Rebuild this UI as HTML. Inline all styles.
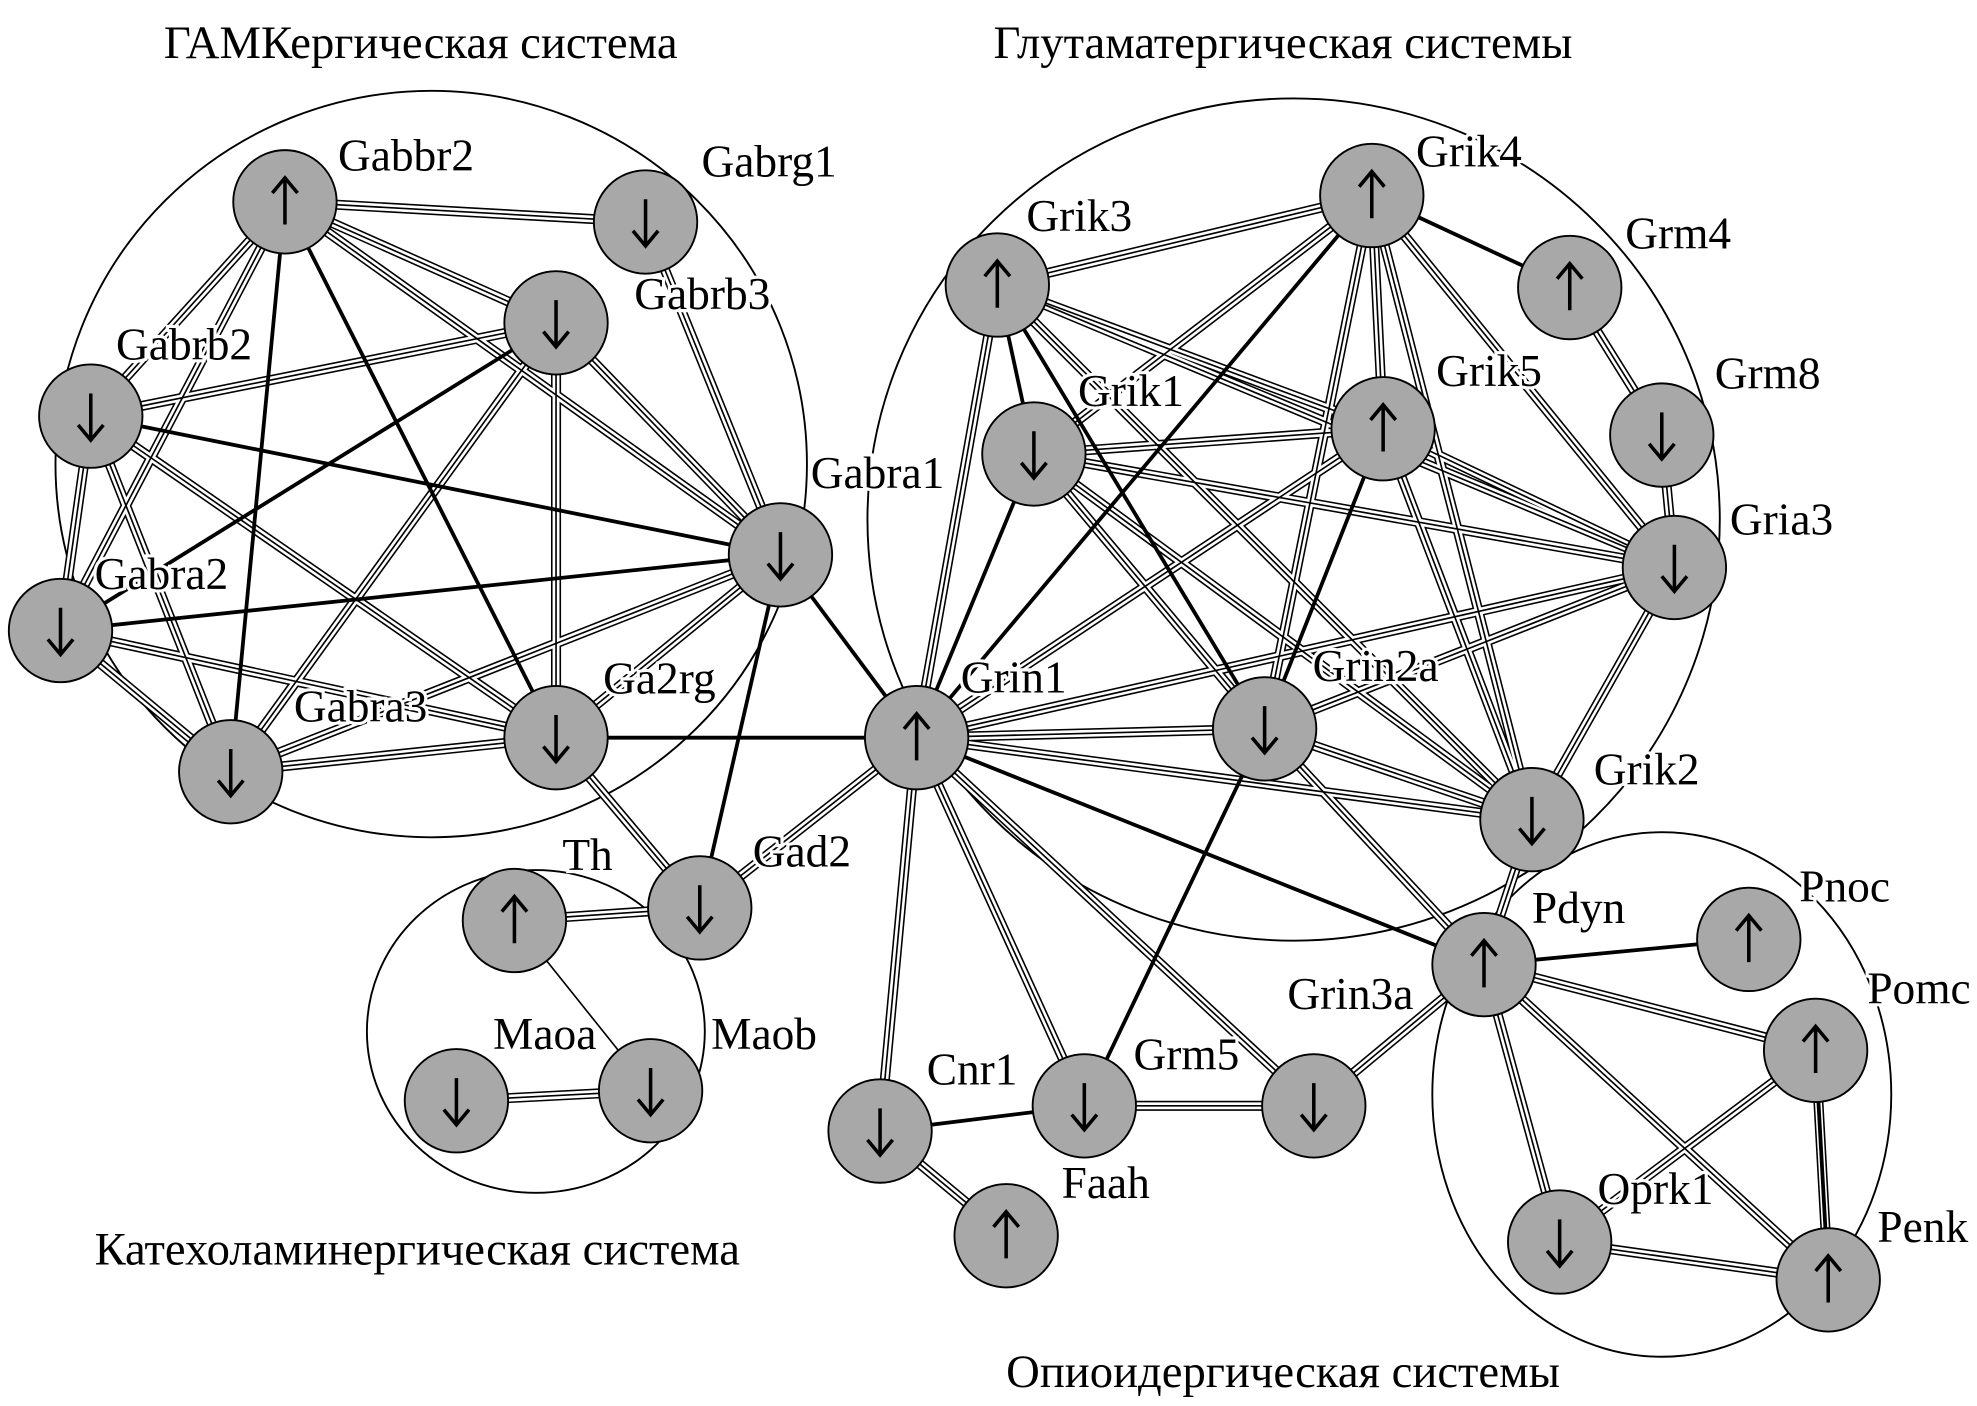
<!DOCTYPE html>
<html><head><meta charset="utf-8"><style>
html,body{margin:0;padding:0;background:#fff}
svg{display:block}
text{font-family:"Liberation Serif",serif;font-size:36px;fill:#000}
.t{font-size:37px}
.lbl{paint-order:stroke;stroke:#fff;stroke-width:5px;text-anchor:middle}
</style></head><body>
<svg width="1977" height="1406" viewBox="0 0 1568 1115" xmlns="http://www.w3.org/2000/svg" xmlns:xlink="http://www.w3.org/1999/xlink">
<defs>
<g id="T">
<line x1="226" y1="160" x2="441" y2="256"/>
<line x1="226" y1="160" x2="72" y2="330"/>
<line x1="226" y1="160" x2="619" y2="440"/>
<line x1="226" y1="160" x2="48" y2="500"/>
<line x1="441" y1="256" x2="72" y2="330"/>
<line x1="441" y1="256" x2="619" y2="440"/>
<line x1="441" y1="256" x2="183" y2="612"/>
<line x1="441" y1="256" x2="441" y2="585"/>
<line x1="72" y1="330" x2="48" y2="500"/>
<line x1="72" y1="330" x2="183" y2="612"/>
<line x1="72" y1="330" x2="441" y2="585"/>
<line x1="619" y1="440" x2="183" y2="612"/>
<line x1="619" y1="440" x2="441" y2="585"/>
<line x1="48" y1="500" x2="183" y2="612"/>
<line x1="48" y1="500" x2="441" y2="585"/>
<line x1="183" y1="612" x2="441" y2="585"/>
<line x1="226" y1="160" x2="512" y2="176"/>
<line x1="512" y1="176" x2="619" y2="440"/>
<line x1="441" y1="585" x2="555" y2="720"/>
<line x1="555" y1="720" x2="727" y2="585"/>
<line x1="555" y1="720" x2="408" y2="730"/>
<line x1="362" y1="873" x2="516" y2="865"/>
<line x1="791" y1="226" x2="1088" y2="155"/>
<line x1="791" y1="226" x2="1097" y2="340"/>
<line x1="791" y1="226" x2="1328" y2="450"/>
<line x1="791" y1="226" x2="727" y2="585"/>
<line x1="791" y1="226" x2="1215" y2="650"/>
<line x1="1088" y1="155" x2="820" y2="360"/>
<line x1="1088" y1="155" x2="1097" y2="340"/>
<line x1="1088" y1="155" x2="1328" y2="450"/>
<line x1="1088" y1="155" x2="1003" y2="578"/>
<line x1="1088" y1="155" x2="1215" y2="650"/>
<line x1="820" y1="360" x2="1097" y2="340"/>
<line x1="820" y1="360" x2="1328" y2="450"/>
<line x1="820" y1="360" x2="1003" y2="578"/>
<line x1="820" y1="360" x2="1215" y2="650"/>
<line x1="1097" y1="340" x2="1328" y2="450"/>
<line x1="1097" y1="340" x2="727" y2="585"/>
<line x1="1097" y1="340" x2="1215" y2="650"/>
<line x1="1328" y1="450" x2="727" y2="585"/>
<line x1="1328" y1="450" x2="1003" y2="578"/>
<line x1="1328" y1="450" x2="1215" y2="650"/>
<line x1="727" y1="585" x2="1003" y2="578"/>
<line x1="727" y1="585" x2="1215" y2="650"/>
<line x1="1003" y1="578" x2="1215" y2="650"/>
<line x1="1245" y1="228" x2="1318" y2="345"/>
<line x1="1318" y1="345" x2="1328" y2="450"/>
<line x1="727" y1="585" x2="698" y2="897"/>
<line x1="727" y1="585" x2="860" y2="877"/>
<line x1="727" y1="585" x2="1042" y2="877"/>
<line x1="1003" y1="578" x2="1177" y2="765"/>
<line x1="860" y1="877" x2="1042" y2="877"/>
<line x1="1042" y1="877" x2="1177" y2="765"/>
<line x1="698" y1="897" x2="798" y2="980"/>
<line x1="1177" y1="765" x2="1440" y2="833"/>
<line x1="1177" y1="765" x2="1450" y2="1015"/>
<line x1="1177" y1="765" x2="1237" y2="985"/>
<line x1="1440" y1="833" x2="1450" y2="1015"/>
<line x1="1440" y1="833" x2="1237" y2="985"/>
<line x1="1237" y1="985" x2="1450" y2="1015"/>
<line x1="1215" y1="650" x2="1177" y2="765"/>
</g>
<path id="up" d="M0 18V-18M-10 -7L0 -19L10 -7" fill="none" stroke="#000" stroke-width="2.8"/>
<path id="dn" d="M0 -18V18M-10 7L0 19L10 7" fill="none" stroke="#000" stroke-width="2.8"/>
</defs>
<g fill="none" stroke="#000" stroke-width="1.5">
<ellipse cx="342" cy="368" rx="298" ry="296"/>
<ellipse cx="1026" cy="412" rx="338" ry="334"/>
<ellipse cx="425" cy="818" rx="134" ry="128"/>
<ellipse cx="1318" cy="868" rx="182" ry="208"/>
</g>
<g fill="none">
<use xlink:href="#T" stroke="#000" stroke-width="8"/>
<use xlink:href="#T" stroke="#fff" stroke-width="5.5"/>
<use xlink:href="#T" stroke="#000" stroke-width="1.3"/>
</g>
<g stroke="#000" stroke-width="3">
<line x1="226" y1="160" x2="183" y2="612"/>
<line x1="226" y1="160" x2="441" y2="585"/>
<line x1="441" y1="256" x2="48" y2="500"/>
<line x1="72" y1="330" x2="619" y2="440"/>
<line x1="619" y1="440" x2="48" y2="500"/>
<line x1="619" y1="440" x2="727" y2="585"/>
<line x1="441" y1="585" x2="727" y2="585"/>
<line x1="619" y1="440" x2="555" y2="720"/>
<line x1="791" y1="226" x2="820" y2="360"/>
<line x1="791" y1="226" x2="1003" y2="578"/>
<line x1="1088" y1="155" x2="727" y2="585"/>
<line x1="820" y1="360" x2="727" y2="585"/>
<line x1="1097" y1="340" x2="1003" y2="578"/>
<line x1="727" y1="585" x2="1177" y2="765"/>
<line x1="1088" y1="155" x2="1245" y2="228"/>
<line x1="1003" y1="578" x2="860" y2="877"/>
<line x1="698" y1="897" x2="860" y2="877"/>
<line x1="1177" y1="765" x2="1387" y2="745"/>
<line x1="1440" y1="833" x2="1450" y2="1015"/>
</g>
<line x1="408" y1="730" x2="516" y2="865" stroke="#000" stroke-width="1.3"/>
<g fill="#a8a8a8" stroke="#000" stroke-width="1.5">
<circle cx="226" cy="160" r="41"/><circle cx="512" cy="176" r="41"/><circle cx="441" cy="256" r="41"/>
<circle cx="72" cy="330" r="41"/><circle cx="619" cy="440" r="41"/><circle cx="48" cy="500" r="41"/>
<circle cx="183" cy="612" r="41"/><circle cx="441" cy="585" r="41"/><circle cx="555" cy="720" r="41"/>
<circle cx="408" cy="730" r="41"/><circle cx="362" cy="873" r="41"/><circle cx="516" cy="865" r="41"/>
<circle cx="727" cy="585" r="41"/><circle cx="791" cy="226" r="41"/><circle cx="1088" cy="155" r="41"/>
<circle cx="1245" cy="228" r="41"/><circle cx="1318" cy="345" r="41"/><circle cx="820" cy="360" r="41"/>
<circle cx="1097" cy="340" r="41"/><circle cx="1328" cy="450" r="41"/><circle cx="1003" cy="578" r="41"/>
<circle cx="1215" cy="650" r="41"/><circle cx="1177" cy="765" r="41"/><circle cx="1387" cy="745" r="41"/>
<circle cx="1440" cy="833" r="41"/><circle cx="1450" cy="1015" r="41"/><circle cx="1237" cy="985" r="41"/>
<circle cx="1042" cy="877" r="41"/><circle cx="860" cy="877" r="41"/><circle cx="698" cy="897" r="41"/>
<circle cx="798" cy="980" r="41"/>
</g>
<g>
<use xlink:href="#up" x="226" y="160"/><use xlink:href="#dn" x="512" y="176"/><use xlink:href="#dn" x="441" y="256"/>
<use xlink:href="#dn" x="72" y="330"/><use xlink:href="#dn" x="619" y="440"/><use xlink:href="#dn" x="48" y="500"/>
<use xlink:href="#dn" x="183" y="612"/><use xlink:href="#dn" x="441" y="585"/><use xlink:href="#dn" x="555" y="720"/>
<use xlink:href="#up" x="408" y="730"/><use xlink:href="#dn" x="362" y="873"/><use xlink:href="#dn" x="516" y="865"/>
<use xlink:href="#up" x="727" y="585"/><use xlink:href="#up" x="791" y="226"/><use xlink:href="#up" x="1088" y="155"/>
<use xlink:href="#up" x="1245" y="228"/><use xlink:href="#dn" x="1318" y="345"/><use xlink:href="#dn" x="820" y="360"/>
<use xlink:href="#up" x="1097" y="340"/><use xlink:href="#dn" x="1328" y="450"/><use xlink:href="#dn" x="1003" y="578"/>
<use xlink:href="#dn" x="1215" y="650"/><use xlink:href="#up" x="1177" y="765"/><use xlink:href="#up" x="1387" y="745"/>
<use xlink:href="#up" x="1440" y="833"/><use xlink:href="#up" x="1450" y="1015"/><use xlink:href="#dn" x="1237" y="985"/>
<use xlink:href="#dn" x="1042" y="877"/><use xlink:href="#dn" x="860" y="877"/><use xlink:href="#dn" x="698" y="897"/>
<use xlink:href="#up" x="798" y="980"/>
</g>
<text class="t" x="130" y="46">ГАМКергическая система</text>
<text class="t" x="788" y="46">Глутаматергическая системы</text>
<text class="t" x="75" y="1003">Катехоламинергическая система</text>
<text class="t" x="798" y="1100">Опиоидергическая системы</text>
<g>
<text class="lbl" x="322" y="135">Gabbr2</text>
<text class="lbl" x="610" y="140">Gabrg1</text>
<text class="lbl" x="557" y="245">Gabrb3</text>
<text class="lbl" x="146" y="285">Gabrb2</text>
<text class="lbl" x="696" y="387">Gabra1</text>
<text class="lbl" x="128" y="467">Gabra2</text>
<text class="lbl" x="286" y="572">Gabra3</text>
<text class="lbl" x="523" y="550">Ga2rg</text>
<text class="lbl" x="636" y="687">Gad2</text>
<text class="lbl" x="466" y="690">Th</text>
<text class="lbl" x="432" y="832">Maoa</text>
<text class="lbl" x="606" y="832">Maob</text>
<text class="lbl" x="804" y="549">Grin1</text>
<text class="lbl" x="856" y="183">Grik3</text>
<text class="lbl" x="1165" y="132">Grik4</text>
<text class="lbl" x="1331" y="197">Grm4</text>
<text class="lbl" x="1402" y="308">Grm8</text>
<text class="lbl" x="897" y="322">Grik1</text>
<text class="lbl" x="1181" y="306">Grik5</text>
<text class="lbl" x="1413" y="424">Gria3</text>
<text class="lbl" x="1091" y="540">Grin2a</text>
<text class="lbl" x="1306" y="622">Grik2</text>
<text class="lbl" x="1252" y="732">Pdyn</text>
<text class="lbl" x="1463" y="715">Pnoc</text>
<text class="lbl" x="1522" y="796">Pomc</text>
<text class="lbl" x="1525" y="985">Penk</text>
<text class="lbl" x="1313" y="955">Oprk1</text>
<text class="lbl" x="1071" y="800">Grin3a</text>
<text class="lbl" x="941" y="848">Grm5</text>
<text class="lbl" x="771" y="860">Cnr1</text>
<text class="lbl" x="877" y="950">Faah</text>
</g>
</svg>
</body></html>
